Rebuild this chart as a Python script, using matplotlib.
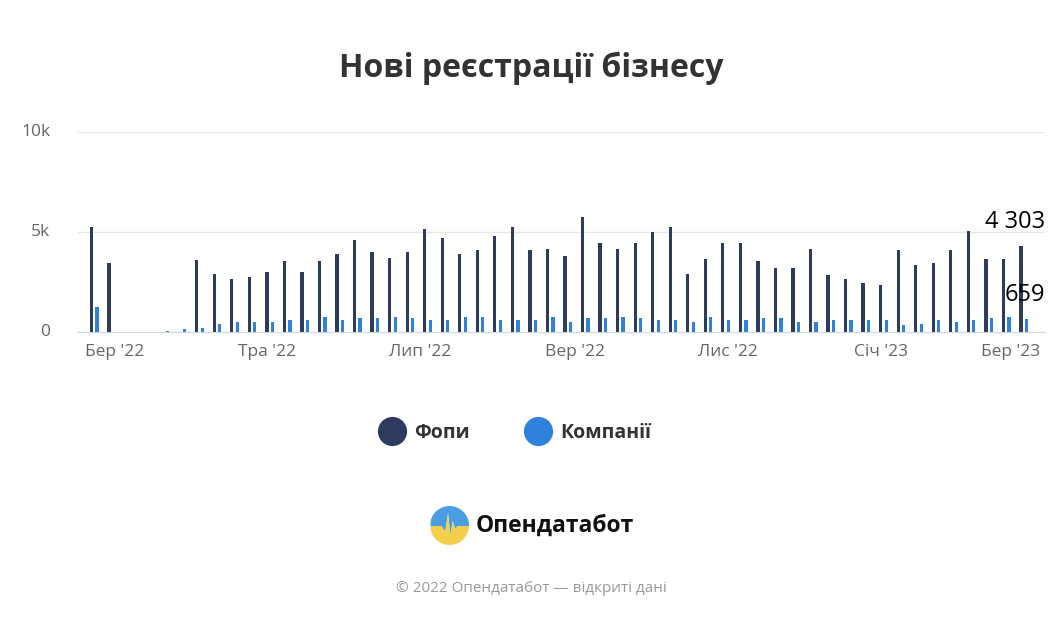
import numpy as np
import pandas as pd
import matplotlib
matplotlib.use("Agg")
import matplotlib.pyplot as plt
import matplotlib.dates as mdates
import matplotlib.transforms as mtransforms
from matplotlib.lines import Line2D
from matplotlib.patches import Circle

plt.rcParams['font.family'] = ['Open Sans', 'DejaVu Sans']

# weekly data, weeks starting on Monday
weeks = pd.date_range('2022-02-21', periods=54, freq='7D')

fopy = [5230, 3450, 0, 0, 10, 20, 3620, 2910, 2640, 2740,
        3010, 3550, 3010, 3550, 3890, 4610, 3990, 3720, 4000, 5150,
        4710, 3900, 4090, 4800, 5230, 4090, 4170, 3800, 5770, 4440,
        4170, 4440, 4980, 5230, 2910, 3630, 4440, 4440, 3550, 3180,
        3180, 4170, 2830, 2640, 2470, 2370, 4090, 3370, 3450, 4090,
        5050, 3630, 3630, 4303]

kompanii = [1230, 20, 0, 0, 30, 150, 200, 420, 520, 520,
            520, 600, 600, 770, 600, 690, 690, 770, 690, 600,
            600, 770, 770, 600, 600, 600, 770, 500, 690, 690,
            770, 690, 600, 600, 500, 770, 600, 600, 690, 690,
            500, 500, 600, 600, 600, 600, 330, 420, 600, 500,
            600, 690, 770, 659]

tick_dates = ['2022-03-01', '2022-05-01', '2022-07-01', '2022-09-01',
              '2022-11-01', '2023-01-01', '2023-03-01']
tick_labels = ["Бер '22", "Тра '22", "Лип '22", "Вер '22",
               "Лис '22", "Січ '23", "Бер '23"]

c_fop = '#2d3b5e'
c_komp = '#2f82dc'

W, H = 1063, 620
fig = plt.figure(figsize=(W / 100, H / 100), dpi=100)
ax = fig.add_axes([78 / W, (H - 332) / H, (1045 - 78) / W, 200 / H])

x = mdates.date2num(weeks)
ax.bar(x - 1.1, fopy, width=1.3, color=c_fop, zorder=3)
ax.bar(x + 1.1, kompanii, width=1.3, color=c_komp, zorder=3)

ax.set_xlim(mdates.date2num(pd.Timestamp('2022-02-14 12:00')),
            mdates.date2num(pd.Timestamp('2023-03-07 12:00')))
ax.set_ylim(0, 10000)

ax.set_yticks([0, 5000, 10000])
ax.set_yticklabels(['0', '5k', '10k'])
ax.set_xticks(mdates.date2num(pd.to_datetime(tick_dates)))
ax.set_xticklabels(tick_labels)
ax.tick_params(axis='both', length=0, labelsize=12.5, labelcolor='#666666')
ax.tick_params(axis='y', pad=20)
ax.tick_params(axis='x', pad=9)
for lab in ax.get_yticklabels():
    lab.set_verticalalignment('center')
# last label justified inside the chart
last = ax.get_xticklabels()[-1]
last.set_transform(last.get_transform() +
                   mtransforms.ScaledTranslation(-0.18, 0, fig.dpi_scale_trans))

ax.grid(axis='y', color='#e6e6e6', linewidth=1, zorder=0)
for s in ['top', 'right', 'left']:
    ax.spines[s].set_visible(False)
ax.spines['bottom'].set_color('#ccd6eb')
ax.spines['bottom'].set_zorder(4)

# data labels for last point
for val, ofs in [(fopy[-1], 17), (kompanii[-1], 17)]:
    txt = f"{val:,}".replace(',', ' ')
    ax.annotate(txt, xy=(1.0, val), xycoords=('axes fraction', 'data'),
                xytext=(0, ofs), textcoords='offset points',
                ha='right', va='center', fontsize=17, color='black', zorder=6)

fig.text(0.5, 1 - 68 / H, 'Нові реєстрації бізнесу', ha='center', va='center',
         fontsize=23, fontweight='bold', color='#333333')

handles = [Line2D([], [], linestyle='', marker='o', markersize=20, color=c_fop),
           Line2D([], [], linestyle='', marker='o', markersize=20, color=c_komp)]
leg = fig.legend(handles, ['Фопи', 'Компанії'], loc='center',
                 bbox_to_anchor=(512 / W, 1 - 433 / H), ncol=2, frameon=False,
                 handletextpad=0.15, columnspacing=2.5,
                 prop={'weight': 'bold', 'size': 14})
for t in leg.get_texts():
    t.set_color('#333333')

# logo
lax = fig.add_axes([430 / W, (H - 545) / H, 39 / W, 39 / H])
lax.set_xlim(-1, 1)
lax.set_ylim(-1, 1)
lax.set_aspect('equal')
lax.axis('off')
circ = Circle((0, 0), 1, transform=lax.transData, facecolor='none', edgecolor='none')
lax.add_patch(circ)
px = np.array([-1, -0.4, -0.25, -0.1, 0.02, 0.14, 0.26, 0.4, 1])
py = np.array([-0.05, -0.05, -0.3, 0.65, -0.5, 0.25, -0.15, 0.0, 0.0])
top = lax.fill_between(px, py, 1, color='#4a9fe4', linewidth=0)
bot = lax.fill_between(px, -1, py, color='#f3cf4a', linewidth=0)
top.set_clip_path(circ)
bot.set_clip_path(circ)
fig.text(476 / W, 1 - 526 / H, 'Опендатабот', ha='left', va='center',
         fontsize=16.5, fontweight='bold', color='#111111')

fig.text(0.5, 1 - 588 / H, '© 2022 Опендатабот — відкриті дані', ha='center',
         va='center', fontsize=11, color='#999999')

fig.savefig('out.png', dpi=100)
